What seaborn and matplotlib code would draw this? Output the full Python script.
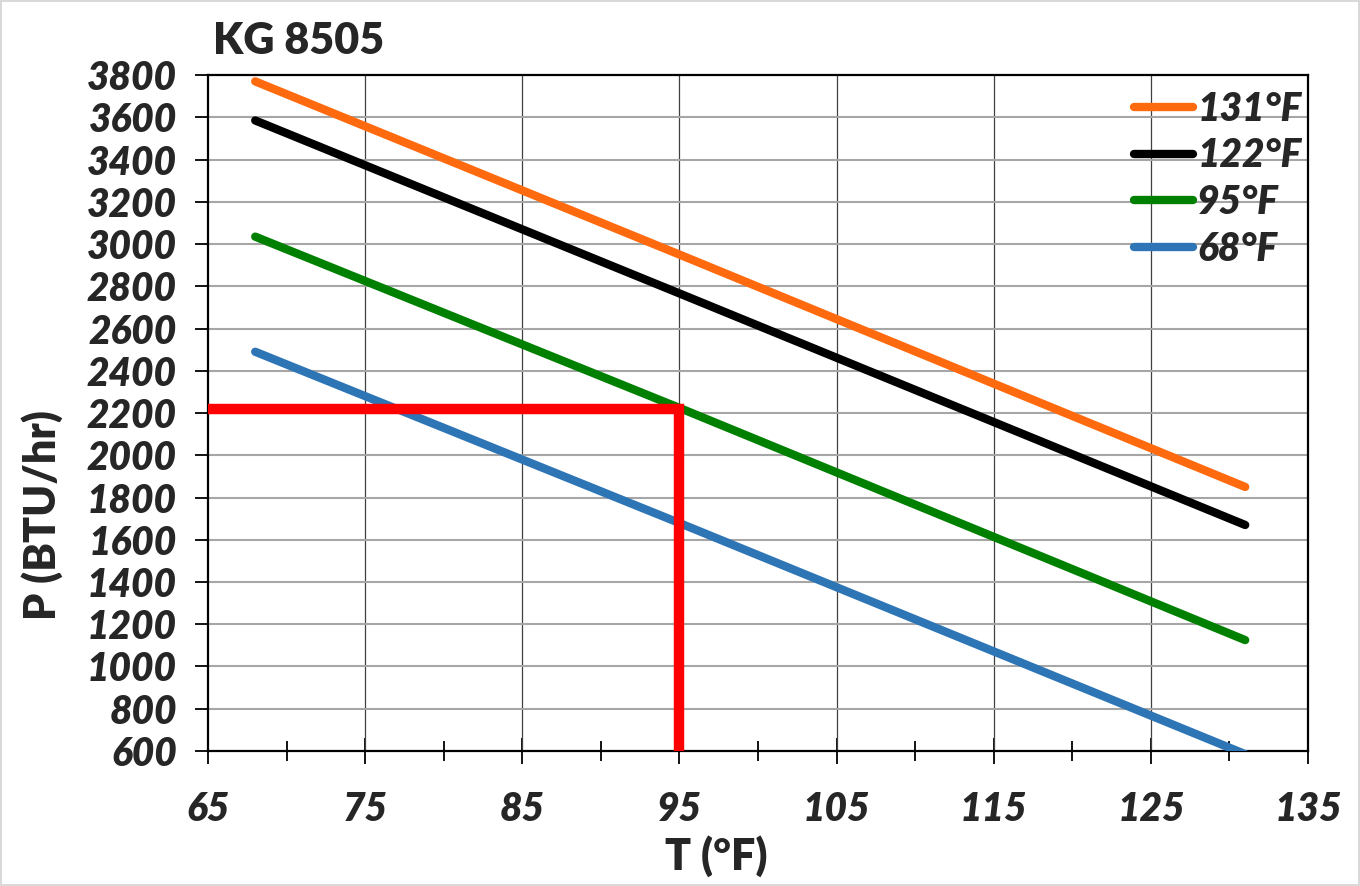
import pandas as pd
import matplotlib.pyplot as plt
import seaborn as sns

# Leistung vs. Umgebungstemperatur, je Innentemperatur
temps = [68, 95, 131]
p_131 = [3770, 2950, 1850]
p_122 = [3585, 2766, 1670]
p_95 = [3035, 2224, 1125]
p_68 = [2490, 1679, 585]
series_labels = ['131°F', '122°F', '95°F', '68°F']
series_colors = ['#FF6A0E', '#000000', '#008000', '#2E75B6']

# Ablese-Hilfslinie (rot)
ref_x = [65, 95, 95]
ref_y = [2220, 2220, 600]

x_ticks = [65, 75, 85, 95, 105, 115, 125, 135]
y_ticks = list(range(600, 3801, 200))

rows = []
for lbl, vals in zip(series_labels, [p_131, p_122, p_95, p_68]):
    for t, p in zip(temps, vals):
        rows.append({'T': t, 'P': p, 'serie': lbl})
df = pd.DataFrame(rows)

sns.set_style('white')
plt.rcParams['font.family'] = ['Lato', 'DejaVu Sans']

fig = plt.figure(figsize=(13.6, 8.86), dpi=100)
fig.patch.set_edgecolor('#d9d9d9')
fig.patch.set_linewidth(1.5)
ax = fig.add_axes([0.153, 0.1524, 0.8088, 0.7629])

sns.lineplot(data=df, x='T', y='P', hue='serie', hue_order=series_labels,
             palette=dict(zip(series_labels, series_colors)),
             linewidth=6, ax=ax, legend=True, zorder=3,
             solid_capstyle='round')
ax.plot(ref_x, ref_y, color='#FF0000', linewidth=7.5, zorder=4,
        solid_joinstyle='miter', solid_capstyle='butt')

ax.set_xlim(65, 135)
ax.set_ylim(600, 3800)
ax.set_xticks(x_ticks)
ax.set_xticks(range(70, 135, 10), minor=True)
ax.set_yticks(y_ticks)

ax.grid(False)
for xv in x_ticks[1:-1]:
    ax.axvline(xv, color='#404040', linewidth=0.9, zorder=1)
for yv in y_ticks[1:-1]:
    ax.axhline(yv, color='#a6a6a6', linewidth=1.5, zorder=1)

for s in ax.spines.values():
    s.set_color('black')
    s.set_linewidth(1.6)
    s.set_visible(True)

ax.tick_params(axis='both', which='major', direction='inout', length=19,
               width=1.3, color='black', labelsize=28,
               bottom=True, left=True)
ax.tick_params(axis='x', which='minor', direction='inout', length=14,
               width=1.3, color='black', bottom=True)
ax.tick_params(axis='x', which='major', pad=19)
ax.tick_params(axis='y', which='major', pad=13)
for lab in ax.get_xticklabels() + ax.get_yticklabels():
    lab.set_fontweight('heavy')
    lab.set_fontstyle('italic')

ax.set_xlabel('')
ax.set_ylabel('')
fig.text(716 / 1360, 1 - 856 / 886, 'T (°F)', ha='center', va='center',
         fontsize=31, fontweight='heavy')
fig.text(42 / 1360, 1 - 515 / 886, 'P (BTU/hr)', ha='center', va='center',
         rotation=90, fontsize=31, fontweight='heavy')
fig.text(213 / 1360, 1 - 41 / 886, 'KG 8505', ha='left', va='center',
         fontsize=31, fontweight='heavy')

handles, labels = ax.get_legend_handles_labels()
for h in handles:
    h.set_linewidth(6)
    h.set_solid_capstyle('round')
leg = ax.legend(handles, labels, loc='upper left',
                bbox_to_anchor=(0.842, 0.977), frameon=False,
                prop={'family': 'Lato', 'weight': 'heavy', 'style': 'italic',
                      'size': 28},
                handlelength=1.5, handletextpad=0.12, labelspacing=0.25,
                borderpad=0, borderaxespad=0)

fig.savefig('out.png', dpi=100)
